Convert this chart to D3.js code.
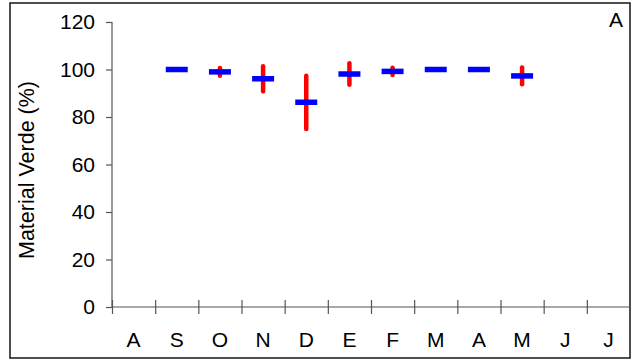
<!DOCTYPE html>
<html>
<head>
<meta charset="utf-8">
<script src="https://cdn.jsdelivr.net/npm/d3@7"></script>
<style>
  body { margin: 0; background: #fff; }
  svg { display: block; font-family: "Liberation Sans", Arial, sans-serif; }
</style>
</head>
<body>
<div id="chart"></div>
<script>
/*
 * Data
 */
var months = ['A', 'S', 'O', 'N', 'D', 'E', 'F', 'M', 'A', 'M', 'J', 'J'];
var means  = [null, 100, 99, 96.1, 86.2, 98.1, 99.2, 100, 100, 97.3, null, null];
var errs   = [null, 0, 1.6, 5.3, 11.2, 4.5, 1.5, 0, 0, 3.5, null, null];
var yTicks = [0, 20, 40, 60, 80, 100, 120];

var width = 632, height = 360;

var svg = d3.select('#chart').append('svg')
  .attr('width', width)
  .attr('height', height);

// outer frame
svg.append('rect')
  .attr('x', 10).attr('y', 3)
  .attr('width', 620).attr('height', 355)
  .attr('fill', 'none')
  .attr('stroke', '#222')
  .attr('stroke-width', 1.6);

var x = d3.scaleLinear().domain([0, months.length]).range([112, 630]);
var y = d3.scaleLinear().domain([0, 120]).range([307, 22]);

// y axis
var yAxis = d3.axisLeft(y).tickValues(yTicks).tickSize(6).tickPadding(11);
var gy = svg.append('g').attr('transform', 'translate(112,0)').call(yAxis);
gy.select('.domain').attr('d', 'M0,' + y(120) + 'V' + y(0));
gy.selectAll('text').style('font-size', '21px').attr('fill', '#000');

// x axis, ticks cross the line
var xAxis = d3.axisBottom(x).tickValues(d3.range(0, months.length)).tickSize(7).tickFormat('');
var gx = svg.append('g').attr('transform', 'translate(0,' + y(0) + ')').call(xAxis);
gx.select('.domain').attr('d', 'M' + x(0) + ',0H' + x(months.length));
gx.selectAll('.tick line').attr('y1', -7);

svg.selectAll('path.domain, .tick line')
  .attr('stroke', '#555')
  .attr('stroke-width', 1.2);

// month labels between ticks
svg.selectAll('.month')
  .data(months)
  .enter().append('text')
  .attr('class', 'month')
  .attr('x', function(d, i) { return x(i + 0.5); })
  .attr('y', 347)
  .attr('text-anchor', 'middle')
  .style('font-size', '21px')
  .text(function(d) { return d; });

// y label
svg.append('text')
  .attr('transform', 'translate(34,170) rotate(-90)')
  .attr('text-anchor', 'middle')
  .style('font-size', '21.5px')
  .text('Material Verde (%)');

// panel letter
svg.append('text')
  .attr('x', 623).attr('y', 27)
  .attr('text-anchor', 'end')
  .style('font-size', '21px')
  .text('A');

var pts = [];
means.forEach(function(m, i) {
  if (m !== null) pts.push({ i: i, m: m, e: errs[i] });
});

// error bars
svg.selectAll('.err')
  .data(pts.filter(function(d) { return d.e > 0; }))
  .enter().append('line')
  .attr('class', 'err')
  .attr('x1', function(d) { return x(d.i + 0.5); })
  .attr('x2', function(d) { return x(d.i + 0.5); })
  .attr('y1', function(d) { return y(d.m + d.e); })
  .attr('y2', function(d) { return y(d.m - d.e); })
  .attr('stroke', '#ff0000')
  .attr('stroke-width', 4.5)
  .attr('stroke-linecap', 'round');

// mean bars
svg.selectAll('.mean')
  .data(pts)
  .enter().append('line')
  .attr('class', 'mean')
  .attr('x1', function(d) { return x(d.i + 0.5) - 11; })
  .attr('x2', function(d) { return x(d.i + 0.5) + 11; })
  .attr('y1', function(d) { return y(d.m); })
  .attr('y2', function(d) { return y(d.m); })
  .attr('stroke', '#0000ff')
  .attr('stroke-width', 5.5);
</script>
</body>
</html>
